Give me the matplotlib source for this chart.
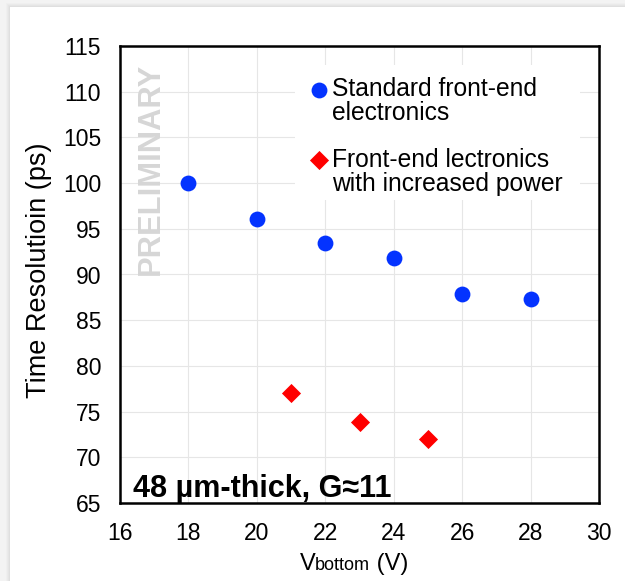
import matplotlib
matplotlib.use("Agg")
import matplotlib.pyplot as plt
from matplotlib.patches import Rectangle
from matplotlib.lines import Line2D
from matplotlib.offsetbox import TextArea, HPacker, AnchoredOffsetbox

plt.rcParams['font.family'] = ['Liberation Sans', 'DejaVu Sans']

# data
std_v = [18, 20, 22, 24, 26, 28]
std_res = [100.0, 96.1, 93.5, 91.8, 87.9, 87.3]
pow_v = [21, 23, 25]
pow_res = [77.0, 73.9, 72.0]
xticks = [16, 18, 20, 22, 24, 26, 28, 30]
yticks = [65, 70, 75, 80, 85, 90, 95, 100, 105, 110, 115]
std_label = ["Standard front-end", "electronics"]
pow_label = ["Front-end lectronics", "with increased power"]

W, H = 625, 581
fig = plt.figure(figsize=(W / 100, H / 100), dpi=100, facecolor='#f3f3f3')

# shadow + white panel
for i, a in enumerate([0.03, 0.04, 0.05, 0.06]):
    off = 4 - i
    fig.patches.append(Rectangle(((10 - off) / W, 0), 1, 1 - (7 - off) / H,
                                 transform=fig.transFigure, facecolor='#888888',
                                 edgecolor='none', alpha=a, zorder=-10))
fig.patches.append(Rectangle((10 / W, 0), 1, 1 - 7 / H, transform=fig.transFigure,
                             facecolor='white', edgecolor='none', zorder=-9))

ax = fig.add_axes([120 / W, (H - 503) / H, 479 / W, 457 / H])
ax.set_zorder(1)
ax.set_facecolor('white')
ax.set_xlim(16, 30)
ax.set_ylim(65, 115)
ax.set_xticks(xticks)
ax.set_yticks(yticks)
ax.grid(True, color='#e6e6e6', linewidth=0.8)
ax.set_axisbelow(True)
for s in ax.spines.values():
    s.set_linewidth(1.8)
    s.set_color('black')
ax.tick_params(length=0, labelsize=16.5)
ax.tick_params(axis='y', pad=13.5)
ax.tick_params(axis='x', pad=14)

sc1 = ax.scatter(std_v, std_res, s=130, color='#0433ff', marker='o', linewidths=0,
                 zorder=3)
sc2 = ax.scatter(pow_v, pow_res, s=95, color='#ff0000', marker='D', linewidths=0,
                 zorder=3)

ax.set_ylabel('Time Resolutioin (ps)', fontsize=19.5)
ax.yaxis.set_label_coords(-0.143, 0.51)

# x label: V with small "bottom" on the same baseline
xl = HPacker(children=[TextArea('V', textprops=dict(size=17)),
                       TextArea('bottom', textprops=dict(size=13)),
                       TextArea(' (V)', textprops=dict(size=17))],
             align='baseline', pad=0, sep=0)
ab = AnchoredOffsetbox(loc='center', child=xl, pad=0, borderpad=0, frameon=False,
                       bbox_to_anchor=(354 / W, 1 - 564 / H),
                       bbox_transform=fig.transFigure)
fig.add_artist(ab)

# white box behind the legend
ax.add_patch(Rectangle((0.365, 0.663), 0.595, 0.295, transform=ax.transAxes,
                       facecolor='white', edgecolor='none', zorder=1))

blank = Line2D([], [], linestyle='none', marker='none')
common = dict(loc='upper left', fontsize=17.7, frameon=False, borderpad=0,
              handletextpad=0.1, handlelength=0.9, labelspacing=0.0,
              borderaxespad=0, scatterpoints=1)
leg1 = ax.legend([sc1, blank], std_label, bbox_to_anchor=(0.392, 0.932), **common)
leg1.set_zorder(4)
ax.add_artist(leg1)
leg2 = ax.legend([sc2, blank], pow_label, bbox_to_anchor=(0.392, 0.777), **common)
leg2.set_zorder(4)

ax.text(0.0647, 0.731, 'PRELIMINARY', transform=ax.transAxes, rotation=90,
        fontsize=22.2, fontweight='bold', color='#d6d6d6', ha='center', va='center')
ax.text(0.027, 0.013, '48 µm-thick, G≈11', transform=ax.transAxes,
        fontsize=22, fontweight='bold', color='black', ha='left', va='baseline')

fig.savefig('out.png', dpi=100, facecolor=fig.get_facecolor())
